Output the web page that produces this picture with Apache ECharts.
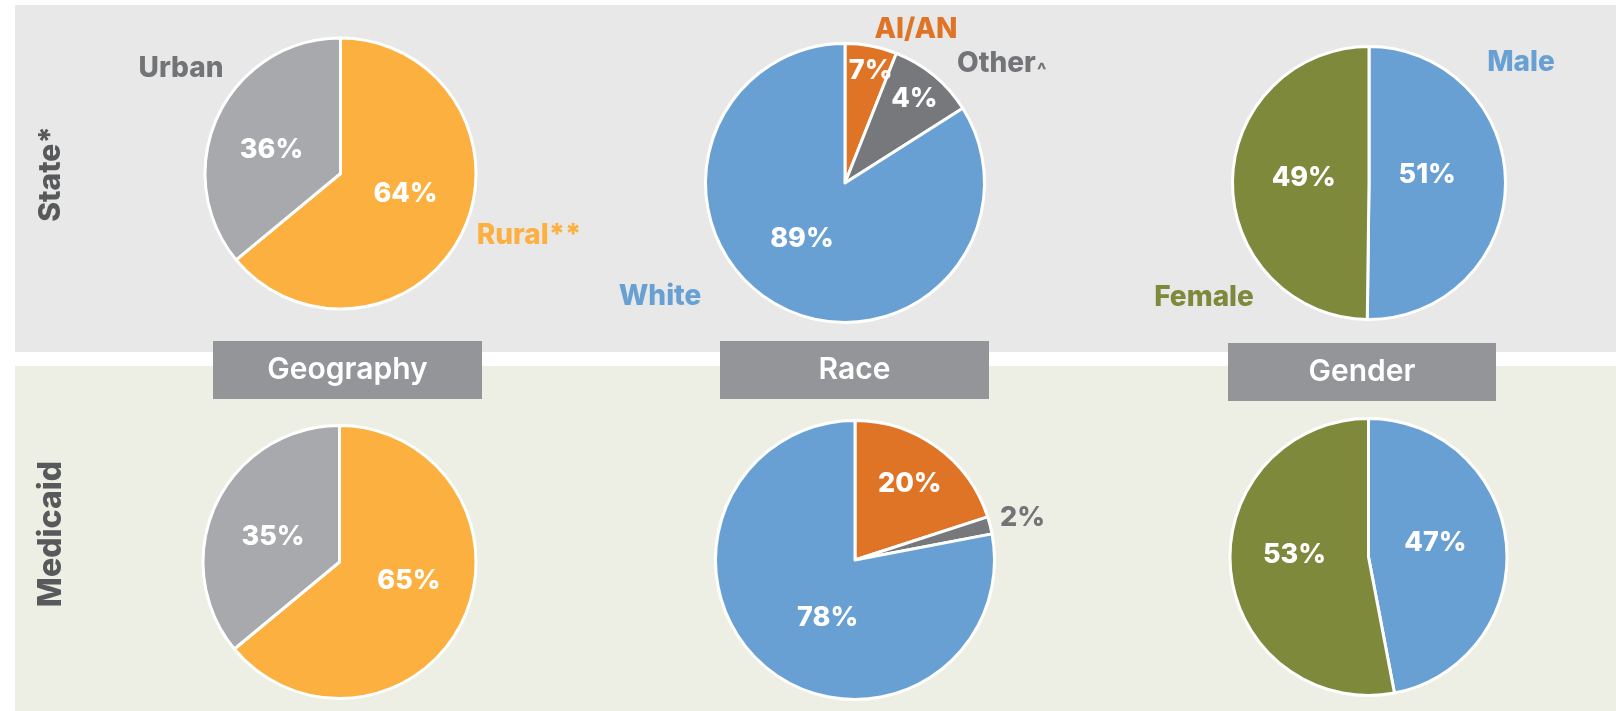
<!DOCTYPE html>
<html>
<head>
<meta charset="utf-8">
<script src="https://cdn.jsdelivr.net/npm/echarts@6/dist/echarts.min.js"></script>
<style>
  html, body { margin: 0; padding: 0; background: #fff; }
  #chart { width: 1616px; height: 711px; }
</style>
</head>
<body>
<div id="chart"></div>
<script>
// --- data ---
const rowNames = ["State*", "Medicaid"];
const panelNames = ["Geography", "Race", "Gender"];

const geoNames = ["Rural**", "Urban"];
const stateGeoShare = [64, 36];
const stateGeoLabels = ["64%", "36%"];
const medicaidGeoShare = [64, 36];
const medicaidGeoLabels = ["65%", "35%"];

const raceNames = ["AI/AN", "Other^", "White"];
const stateRaceShare = [6, 10, 84];
const stateRaceLabels = ["7%", "4%", "89%"];
const medicaidRaceShare = [20, 2, 78];
const medicaidRaceLabels = ["20%", "2%", "78%"];

const genderNames = ["Male", "Female"];
const stateGenderShare = [50.2, 49.8];
const stateGenderLabels = ["51%", "49%"];
const medicaidGenderShare = [47, 53];
const medicaidGenderLabels = ["47%", "53%"];

// --- styling ---
const FONT = "Inter, 'Open Sans', sans-serif";
const geoColors = ["#fbb040", "#a7a9ac"];
const raceColors = ["#e07426", "#77787b", "#68a0d3"];
const genderColors = ["#68a0d3", "#7e893b"];
const tagGray = "#737478";

const chart = echarts.init(document.getElementById("chart"), null, { renderer: "canvas" });

function pie(center, radius, names, shares, labels, colors, offsets, outsideIdx) {
  return {
    type: "pie",
    center: center,
    radius: radius,
    startAngle: 90,
    clockwise: true,
    avoidLabelOverlap: false,
    silent: true,
    itemStyle: { borderColor: "#ffffff", borderWidth: 3 },
    label: {
      position: "inside",
      color: "#ffffff",
      fontFamily: FONT,
      fontWeight: 800,
      fontSize: 27,
      formatter: p => labels[p.dataIndex]
    },
    labelLine: { show: false, length: 5, length2: 0 },
    labelLayout: p => ({ dx: offsets[p.dataIndex][0], dy: offsets[p.dataIndex][1] }),
    data: names.map((n, i) => {
      const d = { name: n, value: shares[i], itemStyle: { color: colors[i] } };
      if (i === outsideIdx) {
        d.label = { position: "outside", color: tagGray };
      }
      return d;
    })
  };
}

// category name tags around the pies: [text, x, y, color, align]
const nameTags = [
  [geoNames[1], 181, 69, tagGray, "center"],
  [geoNames[0], 529, 236, geoColors[0], "center"],
  [raceNames[0], 916, 30, raceColors[0], "center"],
  [raceNames[1], 957, 64, tagGray, "left"],
  [raceNames[2], 660, 297, raceColors[2], "center"],
  [genderNames[0], 1521, 63, genderColors[0], "center"],
  [genderNames[1], 1204, 298, genderColors[1], "center"]
];

const graphics = [
  { type: "rect", z: -10, shape: { x: 15, y: 5, width: 1601, height: 347 }, style: { fill: "#e7e8e7" } },
  { type: "rect", z: -10, shape: { x: 15, y: 366, width: 1601, height: 345 }, style: { fill: "#eeefe4" } }
];

const headerBoxes = [[213, 341, 269, 58], [720, 341, 269, 58], [1228, 343, 268, 58]];
panelNames.forEach((p, i) => {
  const b = headerBoxes[i];
  graphics.push({ type: "rect", z: -5, shape: { x: b[0], y: b[1], width: b[2], height: b[3] }, style: { fill: "#939598" } });
  graphics.push({
    type: "text", z: -4, x: b[0] + b[2] / 2, y: b[1] + b[3] / 2,
    style: { text: p, fill: "#ffffff", font: "600 30px " + FONT, align: "center", verticalAlign: "middle" }
  });
});

const rowY = [174, 534];
const rowSize = [30, 32];
rowNames.forEach((r, i) => {
  graphics.push({
    type: "text", x: 51, y: rowY[i], rotation: Math.PI / 2,
    style: { text: r, fill: "#58595b", font: "800 " + rowSize[i] + "px " + FONT, align: "center", verticalAlign: "middle" }
  });
});

nameTags.forEach(t => {
  const m = t[0].match(/^(.*)\^$/);
  const el = {
    type: "text", x: t[1], y: t[2],
    style: { fill: t[3], font: "800 28px " + FONT, align: t[4], verticalAlign: "middle" }
  };
  if (m) {
    el.style.text = "{n|" + m[1] + "}{c|^}";
    el.style.rich = {
      n: { fill: t[3], font: "800 28px " + FONT },
      c: { fill: t[3], font: "800 20px " + FONT, padding: [14, 0, 0, 1] }
    };
  } else {
    el.style.text = t[0];
  }
  graphics.push(el);
});

const option = {
  animation: false,
  backgroundColor: "#ffffff",
  graphic: { elements: graphics },
  series: [
    pie([340.5, 173.5], 135.5, geoNames, stateGeoShare, stateGeoLabels, geoColors,
      [[1, -10], [-5, 6]]),
    pie([845, 183], 139.5, raceNames, stateRaceShare, stateRaceLabels, raceColors,
      [[12, -41], [23, -28], [-8, -8]]),
    pie([1369, 183], 136.5, genderNames, stateGenderShare, stateGenderLabels, genderColors,
      [[-13, -9], [6, -5]]),
    pie([339.5, 562], 136.5, geoNames, medicaidGeoShare, medicaidGeoLabels, geoColors,
      [[5, -11], [-2, 5]]),
    pie([855, 560], 139.5, raceNames, medicaidRaceShare, medicaidRaceLabels, raceColors,
      [[12, -17], [0, -6], [19, 2]], 1),
    pie([1368.5, 557], 138.5, genderNames, medicaidGenderShare, medicaidGenderLabels, genderColors,
      [[-5, -7], [-2, -9]])
  ]
};

chart.setOption(option);
</script>
</body>
</html>
